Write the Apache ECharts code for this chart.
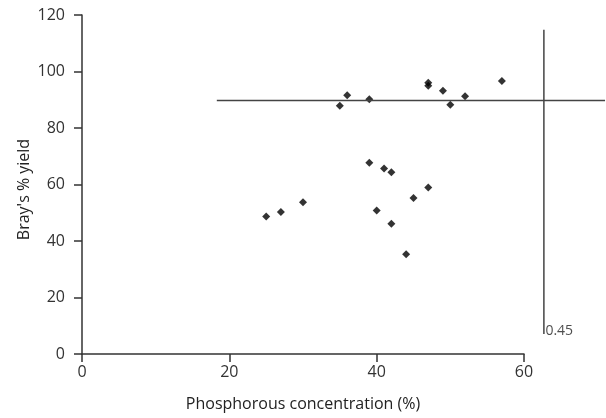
<!DOCTYPE html>
<html>
<head>
<meta charset="utf-8">
<script src="https://cdn.jsdelivr.net/npm/echarts@6/dist/echarts.min.js"></script>
<style>html,body{margin:0;padding:0;background:#fff}#c{width:606px;height:418px}</style>
</head>
<body>
<div id="c"></div>
<script>
// Phosphorous concentration (%) and Bray's % yield
const phosphorous = [35, 36, 39, 47, 47, 49, 50, 52, 57, 39, 41, 42, 47, 45, 30, 40, 42, 44, 25, 27];
const yieldPct   = [87.9, 91.6, 90.2, 95.0, 96.0, 93.2, 88.2, 91.2, 96.6, 67.7, 65.7, 64.3, 58.9, 55.2, 53.7, 50.8, 46.1, 35.3, 48.7, 50.3];
// Reference cross lines
const hLineX = [18.3, 71];
const hLineY = [89.7, 89.7];
const vLineX = [62.7, 62.7];
const vLineY = [114.8, 7.1];
const vLabel = '0.45';
const xTicks = [0, 20, 40, 60];
const yTicks = [0, 20, 40, 60, 80, 100, 120];
const overlayXMax = 71;

const FONT = 'Open Sans';
const chart = echarts.init(document.getElementById('c'), null, {renderer: 'canvas'});
const points = phosphorous.map((x, i) => [x, yieldPct[i]]);
const plotW = 442;
chart.setOption({
  animation: false,
  backgroundColor: '#fff',
  grid: [
    {left: 82, width: plotW, top: 15, bottom: 64},
    {left: 82, width: plotW * overlayXMax / xTicks[xTicks.length - 1], top: 15, bottom: 64}
  ],
  xAxis: [{
    type: 'value', gridIndex: 0, min: xTicks[0], max: xTicks[xTicks.length - 1], interval: 20,
    name: 'Phosphorous concentration (%)', nameLocation: 'middle', nameGap: 42, nameMoveOverlap: false,
    nameTextStyle: {fontFamily: FONT, fontSize: 16, color: '#222'},
    axisLine: {lineStyle: {color: '#333', width: 1.5}},
    axisTick: {show: true, length: 8, lineStyle: {color: '#333', width: 1.5}},
    axisLabel: {fontFamily: FONT, fontSize: 16, color: '#333', margin: 10},
    splitLine: {show: false}
  }, {
    type: 'value', gridIndex: 1, min: 0, max: overlayXMax, show: false, splitLine: {show: false}
  }],
  yAxis: [{
    type: 'value', gridIndex: 0, min: yTicks[0], max: yTicks[yTicks.length - 1], interval: 20,
    name: "Bray's % yield", nameLocation: 'middle', nameGap: 50, nameMoveOverlap: false,
    nameTextStyle: {fontFamily: FONT, fontSize: 16, color: '#222', padding: [0, 10, 0, 0]},
    axisLine: {show: true, lineStyle: {color: '#333', width: 1.5}},
    axisTick: {show: true, length: 8, lineStyle: {color: '#333', width: 1.5}},
    axisLabel: {fontFamily: FONT, fontSize: 16, color: '#333', margin: 17},
    splitLine: {show: false}
  }, {
    type: 'value', gridIndex: 1, min: yTicks[0], max: yTicks[yTicks.length - 1], show: false, splitLine: {show: false}
  }],
  series: [
    {
      type: 'scatter', xAxisIndex: 0, yAxisIndex: 0, data: points, symbol: 'diamond', symbolSize: 8,
      itemStyle: {color: '#000'}
    },
    {
      type: 'line', xAxisIndex: 1, yAxisIndex: 1, data: hLineX.map((x, i) => [x, hLineY[i]]),
      symbol: 'none', lineStyle: {color: '#444', width: 1.5}
    },
    {
      type: 'line', xAxisIndex: 1, yAxisIndex: 1, data: vLineX.map((x, i) => [x, vLineY[i]]),
      symbol: 'none', lineStyle: {color: '#444', width: 1.5}
    },
    {
      type: 'scatter', xAxisIndex: 1, yAxisIndex: 1, symbolSize: 1, itemStyle: {color: 'transparent'},
      data: [[vLineX[1], vLineY[1]]],
      label: {show: true, position: 'right', distance: 1, offset: [0, -3], formatter: vLabel,
        fontFamily: FONT, fontSize: 14, color: '#222'}
    }
  ]
});
</script>
</body>
</html>
